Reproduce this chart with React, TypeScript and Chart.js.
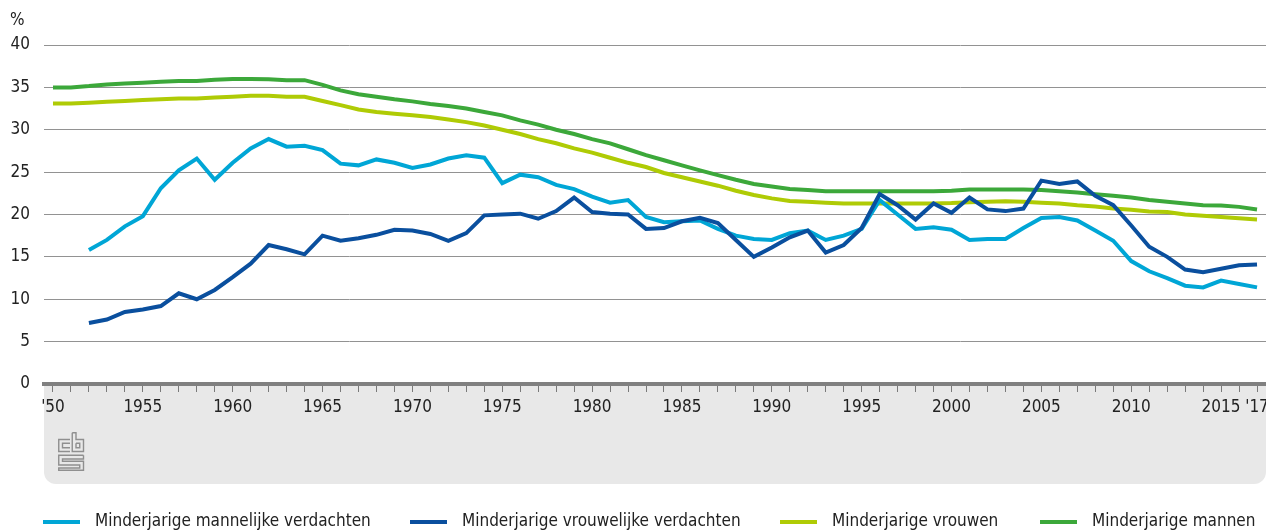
import React, { useEffect, useRef } from "react";
import { Chart, registerables } from "chart.js";

Chart.register(...registerables);

const FONT = '"Liberation Sans Narrow", "DejaVu Sans Condensed", "Roboto", sans-serif';
const FONT_SIZE = 17;

const years = [
  "1950", "1951", "1952", "1953", "1954", "1955", "1956", "1957", "1958", "1959",
  "1960", "1961", "1962", "1963", "1964", "1965", "1966", "1967", "1968", "1969",
  "1970", "1971", "1972", "1973", "1974", "1975", "1976", "1977", "1978", "1979",
  "1980", "1981", "1982", "1983", "1984", "1985", "1986", "1987", "1988", "1989",
  "1990", "1991", "1992", "1993", "1994", "1995", "1996", "1997", "1998", "1999",
  "2000", "2001", "2002", "2003", "2004", "2005", "2006", "2007", "2008", "2009",
  "2010", "2011", "2012", "2013", "2014", "2015", "2016", "2017",
];

const xTickYears = ["1950", "1955", "1960", "1965", "1970", "1975", "1980", "1985", "1990", "1995", "2000", "2005", "2010", "2015", "2017"];
const xTickLabels = ["'50", "1955", "1960", "1965", "1970", "1975", "1980", "1985", "1990", "1995", "2000", "2005", "2010", "2015", "'17"];

const mannelijkeVerdachten = [
  null, null, 15.8, 17.0, 18.6, 19.8, 23.1, 25.2, 26.6, 24.1,
  26.1, 27.8, 28.9, 28.0, 28.1, 27.6, 26.0, 25.8, 26.5, 26.1,
  25.5, 25.9, 26.6, 27.0, 26.7, 23.7, 24.7, 24.4, 23.5, 23.0,
  22.1, 21.4, 21.7, 19.7, 19.1, 19.2, 19.3, 18.3, 17.5, 17.1,
  17.0, 17.8, 18.1, 17.0, 17.5, 18.3, 21.7, 20.0, 18.3, 18.5,
  18.2, 17.0, 17.1, 17.1, 18.4, 19.6, 19.7, 19.3, 18.1, 16.9,
  14.5, 13.3, 12.5, 11.6, 11.4, 12.2, 11.8, 11.4,
];

const vrouwelijkeVerdachten = [
  null, null, 7.2, 7.6, 8.5, 8.8, 9.2, 10.7, 10.0, 11.1,
  12.6, 14.2, 16.4, 15.9, 15.3, 17.5, 16.9, 17.2, 17.6, 18.2,
  18.1, 17.7, 16.9, 17.8, 19.9, 20.0, 20.1, 19.5, 20.4, 22.0,
  20.3, 20.1, 20.0, 18.3, 18.4, 19.2, 19.6, 19.0, 17.0, 15.0,
  16.1, 17.3, 18.1, 15.5, 16.4, 18.4, 22.4, 21.1, 19.4, 21.3,
  20.2, 22.0, 20.6, 20.4, 20.7, 24.0, 23.6, 23.9, 22.2, 21.1,
  18.7, 16.2, 15.0, 13.5, 13.2, 13.6, 14.0, 14.1,
];

const vrouwen = [
  33.1, 33.1, 33.2, 33.3, 33.4, 33.5, 33.6, 33.7, 33.7, 33.8,
  33.9, 34.0, 34.0, 33.9, 33.9, 33.4, 32.9, 32.4, 32.1, 31.9,
  31.7, 31.5, 31.2, 30.9, 30.5, 30.0, 29.5, 28.9, 28.4, 27.8,
  27.3, 26.7, 26.1, 25.6, 24.9, 24.4, 23.9, 23.4, 22.8, 22.3,
  21.9, 21.6, 21.5, 21.4, 21.3, 21.3, 21.3, 21.3, 21.3, 21.3,
  21.35, 21.45, 21.5, 21.55, 21.5, 21.4, 21.3, 21.1, 20.95, 20.7,
  20.55, 20.35, 20.3, 20.0, 19.85, 19.7, 19.55, 19.4,
];

const mannen = [
  35.0, 35.0, 35.15, 35.35, 35.45, 35.55, 35.65, 35.75, 35.75, 35.9,
  36.0, 36.0, 35.95, 35.85, 35.85, 35.3, 34.65, 34.2, 33.9, 33.6,
  33.35, 33.05, 32.8, 32.5, 32.1, 31.7, 31.1, 30.6, 30.0, 29.5,
  28.9, 28.4, 27.7, 27.0, 26.4, 25.8, 25.2, 24.65, 24.1, 23.6,
  23.3, 23.0, 22.9, 22.75, 22.75, 22.75, 22.75, 22.75, 22.75, 22.75,
  22.8, 22.95, 22.95, 22.95, 22.95, 22.9, 22.75, 22.6, 22.4, 22.2,
  22.0, 21.7, 21.5, 21.3, 21.1, 21.05, 20.9, 20.6,
];

const seriesLabels = [
  "Minderjarige mannelijke verdachten",
  "Minderjarige vrouwelijke verdachten",
  "Minderjarige vrouwen",
  "Minderjarige mannen",
];
const seriesColors = ["#00a6d6", "#0a4f9e", "#afcb05", "#3ca83a"];
const legendX = [43, 410, 780, 1040];

const decorPlugin = {
  id: "decor",
  beforeDraw(chart: any) {
    const { ctx, chartArea } = chart;
    ctx.save();
    // grey band under the axis
    ctx.fillStyle = "#e8e8e8";
    const x = chartArea.left;
    const y = chartArea.bottom;
    const w = chartArea.right - chartArea.left;
    const h = 100;
    ctx.beginPath();
    ctx.roundRect(x, y, w, h, [0, 0, 12, 12]);
    ctx.fill();

    // simplified CBS logo
    const lx = 58;
    const ly = 432;
    const k = 1.5;
    ctx.strokeStyle = "#8f8f8f";
    ctx.lineWidth = 1.4;
    const path = (pts: number[][]) => {
      ctx.beginPath();
      pts.forEach((p, i) => {
        if (i === 0) ctx.moveTo(lx + p[0] * k, ly + p[1] * k);
        else ctx.lineTo(lx + p[0] * k, ly + p[1] * k);
      });
      ctx.stroke();
    };
    // c
    path([[8, 5], [0.5, 5], [0.5, 13], [8, 13]]);
    path([[8, 7.5], [3, 7.5], [3, 10.5], [8, 10.5]]);
    // b
    path([[9.5, 0.5], [9.5, 13], [17, 13], [17, 5], [12, 5], [12, 0.5], [9.5, 0.5]]);
    path([[12, 7.5], [14.5, 7.5], [14.5, 10.5], [12, 10.5], [12, 7.5]]);
    // s
    path([[17, 15.5], [0.5, 15.5], [0.5, 22], [14.5, 22], [14.5, 24], [0.5, 24], [0.5, 25.5], [17, 25.5], [17, 19.5], [3, 19.5], [3, 18], [17, 18], [17, 15.5]]);
    ctx.restore();
  },
  afterDraw(chart: any) {
    const { ctx } = chart;
    ctx.save();
    ctx.font = `${FONT_SIZE}px ${FONT}`;
    ctx.fillStyle = "#222";
    ctx.textBaseline = "middle";
    ctx.textAlign = "left";
    ctx.fillText("%", 10, 21);

    const ly = 522;
    seriesLabels.forEach((label, i) => {
      const x = legendX[i];
      ctx.strokeStyle = seriesColors[i];
      ctx.lineWidth = 4;
      ctx.beginPath();
      ctx.moveTo(x, ly);
      ctx.lineTo(x + 37, ly);
      ctx.stroke();
      ctx.fillStyle = "#222";
      ctx.fillText(label, x + 52, ly);
    });
    ctx.restore();
  },
};

export default function App() {
  const canvasRef = useRef<HTMLCanvasElement | null>(null);

  useEffect(() => {
    document.body.style.margin = "0";
    const canvas = canvasRef.current;
    if (!canvas) return;
    const dataSeries = [mannelijkeVerdachten, vrouwelijkeVerdachten, vrouwen, mannen];
    const orders = [1, 0, 3, 2];
    const chart = new Chart(canvas, {
      type: "line",
      data: {
        labels: years,
        datasets: dataSeries.map((d, i) => ({
          label: seriesLabels[i],
          data: d,
          borderColor: seriesColors[i],
          backgroundColor: seriesColors[i],
          borderWidth: 4,
          pointRadius: 0,
          tension: 0,
          fill: false,
          order: orders[i],
        })),
      },
      options: {
        animation: false,
        responsive: false,
        maintainAspectRatio: false,
        devicePixelRatio: 1,
        layout: { padding: { top: 45, left: 0, right: 0, bottom: 0 } },
        plugins: {
          legend: { display: false },
          tooltip: { enabled: false },
        },
        scales: {
          x: {
            type: "category",
            offset: true,
            grid: {
              display: true,
              drawOnChartArea: false,
              drawTicks: true,
              tickLength: 8,
              color: "#7a7a7a",
              lineWidth: 1,
            },
            border: { display: true, color: "#808080", width: 4 },
            ticks: {
              autoSkip: false,
              maxRotation: 0,
              minRotation: 0,
              padding: 5,
              color: "#222",
              font: { family: FONT, size: FONT_SIZE },
              callback: (_v: any, index: number) => {
                const k = xTickYears.indexOf(years[index]);
                return k >= 0 ? xTickLabels[k] : "";
              },
            },
            afterFit: (s: any) => {
              s.height = 147;
              s.paddingLeft = 0;
              s.paddingRight = 0;
            },
          },
          y: {
            min: 0,
            max: 40,
            ticks: {
              stepSize: 5,
              padding: 14,
              color: "#222",
              font: { family: FONT, size: FONT_SIZE },
            },
            grid: { color: "#929292", lineWidth: 1, drawTicks: false },
            border: { display: false },
            afterFit: (s: any) => {
              s.width = 44;
            },
          },
        },
      },
      plugins: [decorPlugin],
    } as any);
    return () => chart.destroy();
  }, []);

  return (
    <div style={{ width: 1266, height: 531, position: "relative" }}>
      <canvas ref={canvasRef} width={1266} height={531} style={{ display: "block" }} />
    </div>
  );
}
